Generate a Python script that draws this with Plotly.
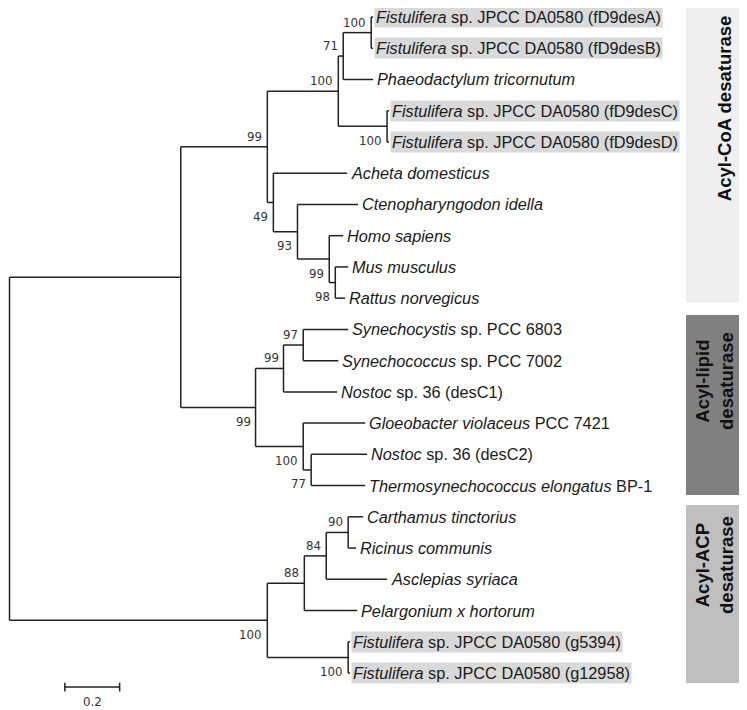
import plotly.graph_objects as go

# ---------------- data ----------------
leaf_labels = [
    "<i>Fistulifera</i> sp. JPCC DA0580 (fD9desA)",
    "<i>Fistulifera</i> sp. JPCC DA0580 (fD9desB)",
    "<i>Phaeodactylum tricornutum</i>",
    "<i>Fistulifera</i> sp. JPCC DA0580 (fD9desC)",
    "<i>Fistulifera</i> sp. JPCC DA0580 (fD9desD)",
    "<i>Acheta domesticus</i>",
    "<i>Ctenopharyngodon idella</i>",
    "<i>Homo sapiens</i>",
    "<i>Mus musculus</i>",
    "<i>Rattus norvegicus</i>",
    "<i>Synechocystis</i> sp. PCC 6803",
    "<i>Synechococcus</i> sp. PCC 7002",
    "<i>Nostoc</i> sp. 36 (desC1)",
    "<i>Gloeobacter violaceus</i> PCC 7421",
    "<i>Nostoc</i> sp. 36 (desC2)",
    "<i>Thermosynechococcus elongatus</i> BP-1",
    "<i>Carthamus tinctorius</i>",
    "<i>Ricinus communis</i>",
    "<i>Asclepias syriaca</i>",
    "<i>Pelargonium x hortorum</i>",
    "<i>Fistulifera</i> sp. JPCC DA0580 (g5394)",
    "<i>Fistulifera</i> sp. JPCC DA0580 (g12958)",
]
leaf_highlight = [1, 1, 0, 1, 1, 0, 0, 0, 0, 0, 0, 0, 0, 0, 0, 0, 0, 0, 0, 0, 1, 1]

# tree: node id, parent id, branch length, bootstrap support
node_ids = ["n0", "n1", "n2", "n3", "n4", "n5", "L0", "L1", "L2", "n6", "L3", "L4",
            "n7", "L5", "n8", "L6", "n9", "L7", "n10", "L8", "L9",
            "n11", "n12", "n13", "L10", "L11", "L12", "n14", "L13", "n15", "L14", "L15",
            "n16", "n17", "n18", "n19", "L16", "L17", "L18", "L19", "n20", "L20", "L21"]
node_parents = [None, "n0", "n1", "n2", "n3", "n4", "n5", "n5", "n4", "n3", "n6", "n6",
                "n2", "n7", "n7", "n8", "n8", "n9", "n9", "n10", "n10",
                "n1", "n11", "n12", "n13", "n13", "n12", "n11", "n14", "n14", "n15", "n15",
                "n0", "n16", "n17", "n18", "n19", "n19", "n18", "n17", "n16", "n20", "n20"]
branch_lengths = [0.0, 0.625, 0.316, 0.259, 0.018, 0.102, 0.007, 0.007, 0.109, 0.178, 0.007, 0.007,
                  0.022, 0.269, 0.088, 0.221, 0.116, 0.051, 0.022, 0.047, 0.036,
                  0.273, 0.102, 0.072, 0.164, 0.128, 0.196, 0.174, 0.226, 0.029, 0.204, 0.197,
                  0.941, 0.135, 0.080, 0.080, 0.055, 0.029, 0.222, 0.193, 0.295, 0.007, 0.007]
support_nodes = ["n2", "n3", "n4", "n5", "n6", "n7", "n8", "n9", "n10",
                 "n11", "n12", "n13", "n14", "n15", "n16", "n17", "n18", "n19", "n20"]
support_values = [99, 100, 71, 100, 100, 49, 93, 99, 98,
                  99, 99, 97, 100, 77, 100, 88, 84, 90, 100]
support_side = ["a", "a", "a", "a", "b", "b", "b", "b", "b",
                "b", "a", "a", "b", "b", "b", "a", "a", "a", "b"]

groups = ["Acyl-CoA desaturase", "Acyl-lipid<br>desaturase", "Acyl-ACP<br>desaturase"]
group_leaf_span = [(0, 9), (10, 15), (16, 21)]
group_colors = ["#efefef", "#808080", "#bfbfbf"]

scale_length = 0.2

# ---------------- layout of tree ----------------
parent = dict(zip(node_ids, node_parents))
blen = dict(zip(node_ids, branch_lengths))
children = {n: [] for n in node_ids}
for n, p in zip(node_ids, node_parents):
    if p is not None:
        children[p].append(n)

depth = {}
for n in node_ids:
    p = parent[n]
    depth[n] = blen[n] + (depth[p] if p is not None else 0.0)

ypos = {}
def get_y(n):
    if n in ypos:
        return ypos[n]
    if n.startswith("L"):
        ypos[n] = float(int(n[1:]))
    else:
        ys = [get_y(c) for c in children[n]]
        ypos[n] = (min(ys) + max(ys)) / 2.0
    return ypos[n]
for n in node_ids:
    get_y(n)

xs, ys = [], []
for n in node_ids:
    p = parent[n]
    if p is not None:
        xs += [depth[p], depth[n], None]
        ys += [ypos[n], ypos[n], None]
    if children[n]:
        cy = [ypos[c] for c in children[n]]
        xs += [depth[n], depth[n], None]
        ys += [min(cy), max(cy), None]

# page has an 8px body margin; size the figure so that window pixels match
OFF = 8
W, H = 747 - OFF, 710 - OFF
PX_PER_UNIT_X = 274.0
PX_PER_LEAF = 31.24
X0_PX, Y0_PX = 9.5, 17.0   # window pixel of root depth 0 / first leaf

def paper_x(px):
    return (px - OFF) / W

fig = go.Figure()
fig.add_trace(go.Scatter(x=xs, y=ys, mode="lines",
                         line=dict(color="#222222", width=1.5),
                         hoverinfo="skip", showlegend=False))

# scale bar
sb_x0 = 0.202
sb_y = 21.45
fig.add_trace(go.Scatter(
    x=[sb_x0, sb_x0 + scale_length, None, sb_x0, sb_x0, None, sb_x0 + scale_length, sb_x0 + scale_length],
    y=[sb_y, sb_y, None, sb_y - 0.14, sb_y + 0.14, None, sb_y - 0.14, sb_y + 0.14],
    mode="lines", line=dict(color="#222222", width=1.5),
    hoverinfo="skip", showlegend=False))

annotations = []
# leaf labels
for i, lab in enumerate(leaf_labels):
    n = "L%d" % i
    hl = leaf_highlight[i]
    annotations.append(dict(
        x=depth[n], y=ypos[n], xref="x", yref="y", text=lab, showarrow=False,
        xanchor="left", yanchor="middle", xshift=1 if hl else 3,
        font=dict(family="Liberation Sans, Arial, sans-serif", size=16.3, color="#1a1a1a"),
        bgcolor="#d9d9d9" if hl else "rgba(0,0,0,0)", borderpad=1 if hl else 0))

# support values
for n, v, s in zip(support_nodes, support_values, support_side):
    annotations.append(dict(
        x=depth[n], y=ypos[n], xref="x", yref="y", text=str(v), showarrow=False,
        xanchor="right", yanchor="middle", xshift=-3, yshift=10 if s == "a" else -14.5,
        font=dict(family="DejaVu Sans, Verdana, sans-serif", size=11.8, color="#333333")))

# scale label
annotations.append(dict(
    x=sb_x0 + scale_length / 2, y=sb_y, xref="x", yref="y", text=str(scale_length),
    showarrow=False, xanchor="center", yanchor="middle", yshift=-15,
    font=dict(family="DejaVu Sans, Verdana, sans-serif", size=11.8, color="#333333")))

shapes = []
box_top_pad = [0.42, 0.46, 0.38]
box_bot_pad = [0.15, 0.30, 0.32]
text_x = [724, 715, 715]
text_dy = [2.95, 1.65, 1.54]
for g, (a, b), col, tp, bp, tx, dy in zip(groups, group_leaf_span, group_colors,
                                          box_top_pad, box_bot_pad, text_x, text_dy):
    shapes.append(dict(type="rect", xref="paper", yref="y",
                       x0=paper_x(686), x1=paper_x(740), y0=a - tp, y1=b + bp,
                       fillcolor=col, line=dict(width=0), layer="below"))
    annotations.append(dict(
        x=paper_x(tx), y=a + dy, xref="paper", yref="y", text="<b>%s</b>" % g, showarrow=False,
        textangle=-90, xanchor="center", yanchor="middle",
        font=dict(family="Liberation Sans, Arial, sans-serif", size=18.5, color="#111111")))

fig.update_layout(
    width=W, height=H,
    margin=dict(l=0, r=0, t=0, b=0),
    paper_bgcolor="white", plot_bgcolor="white",
    xaxis=dict(visible=False, fixedrange=True,
               range=[(OFF - X0_PX) / PX_PER_UNIT_X, (OFF + W - X0_PX) / PX_PER_UNIT_X]),
    yaxis=dict(visible=False, fixedrange=True,
               range=[(OFF + H - Y0_PX) / PX_PER_LEAF, (OFF - Y0_PX) / PX_PER_LEAF]),
    annotations=annotations, shapes=shapes, showlegend=False,
)

fig.write_html("out.html")
